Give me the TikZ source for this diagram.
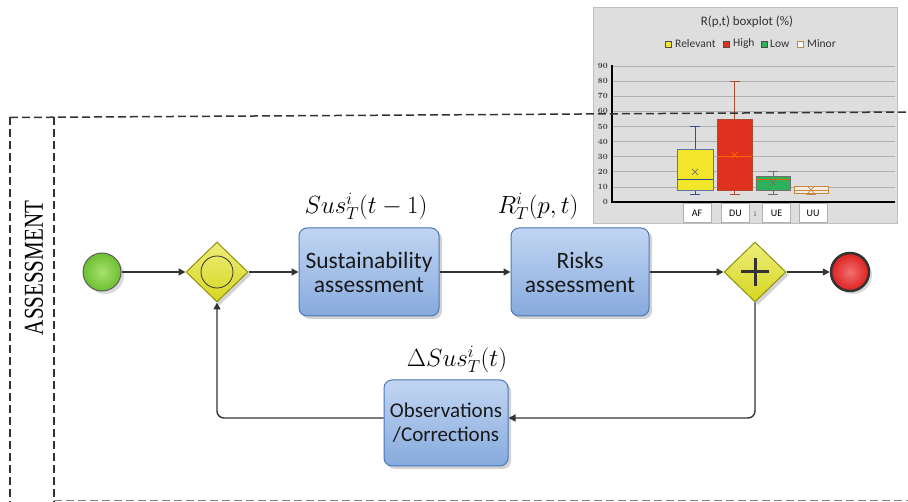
\documentclass[tikz,border=0pt]{standalone}
\usepackage{fontspec}
\setsansfont{Carlito}
\newfontfamily\lbserif{Liberation Serif}
\usetikzlibrary{shapes.geometric,shadows,arrows.meta}
\definecolor{lineC}{HTML}{333333}
\definecolor{boxB}{HTML}{4A78BA}
\definecolor{boxT}{HTML}{C2D6F2}
\definecolor{boxM}{HTML}{86AADD}
\definecolor{gwB}{HTML}{8F8F10}
\definecolor{gwT}{HTML}{EDED7A}
\definecolor{gwM}{HTML}{D6D620}
\definecolor{stT}{HTML}{A8E070}
\definecolor{stM}{HTML}{6CC030}
\definecolor{enT}{HTML}{F07070}
\definecolor{enM}{HTML}{DD2020}
\definecolor{chBg}{HTML}{DEDEDE}
\definecolor{grid}{HTML}{B0B0B0}
\definecolor{afY}{HTML}{F2E52A}
\definecolor{duR}{HTML}{E0301E}
\definecolor{ueG}{HTML}{2DB25C}
\definecolor{uuB}{HTML}{C08840}
\definecolor{wBlue}{HTML}{34508A}
\definecolor{wRed}{HTML}{B04A30}
\definecolor{wGrey}{HTML}{707070}
\newcommand\cy[1]{202-#1*1.51}
\begin{document}
\begin{tikzpicture}[x=1pt,y=-1pt,
  conn/.style={draw=lineC,line width=1.4pt},
  arr/.style={conn,-{Triangle[length=7pt,width=7pt]}},
  task/.style={draw=boxB,line width=1pt,rounded corners=8pt,top color=boxT,bottom color=boxM,
    drop shadow={opacity=0.35,shadow xshift=3pt,shadow yshift=-3pt},
    font=\sffamily\fontsize{23.5}{24}\selectfont,align=center,text=black!90,inner sep=2pt},
  gate/.style={diamond,draw=gwB,line width=1pt,top color=gwT,bottom color=gwM,
    minimum width=62pt,minimum height=60pt,inner sep=0pt,
    drop shadow={opacity=0.35,shadow xshift=3pt,shadow yshift=-3pt}},
  lbl/.style={font=\fontsize{24.5}{28}\selectfont},
  cont/.style={draw=lineC,line width=1.5pt,dash pattern=on 8pt off 4pt},
  chtext/.style={font=\sffamily\fontsize{13}{14}\selectfont,text=black!80},
  lgt/.style={anchor=west,inner sep=0pt,text=black!80},
  ax/.style={font=\fontsize{8}{8}\selectfont\bfseries,text=black!75},
  cat/.style={draw=grid,fill=white,font=\sffamily\fontsize{10}{10}\selectfont,minimum width=28pt,minimum height=19pt,inner sep=0pt}
]
\useasboundingbox (0,0) rectangle (908,502);

% container
\draw[cont] (10,117.5) -- (10,502);
\draw[cont] (54,117.5) -- (54,502);
\draw[cont,draw=gray,line width=1pt] (54,500) -- (908,500);
\node[rotate=90,font=\lbserif\fontsize{21}{22}\selectfont] (lane) at (34,268) {\scalebox{1}[1.3]{ASSESSMENT}};

% chart
\fill[chBg,draw=black!25] (593,7) rectangle (897,223);
\node[chtext] (ctitle) at (747,22) {R(p,t) boxplot (\%)};
\begin{scope}[font=\sffamily\fontsize{11.5}{12}\selectfont]
\draw[fill=afY,draw=black!70] (665,41) rectangle (671,47);
\node[lgt] (lg1) at (675,44) {Relevant};
\draw[fill=duR,draw=black!70] (723,41) rectangle (729,47);
\node[lgt] (lg2) at (733,44) {High};
\draw[fill=ueG,draw=black!70] (761,41) rectangle (767,47);
\node[lgt] (lg3) at (770,44) {Low};
\draw[fill=white,draw=uuB] (797,41) rectangle (803,47);
\node[lgt] (lg4) at (807,44) {Minor};
\end{scope}
\foreach \v in {10,20,...,90}{
  \draw[grid,line width=0.6pt] (612,{\cy{\v}}) -- (895,{\cy{\v}});
  \node[ax,anchor=east,inner sep=0pt] at (608,{\cy{\v}}) {\v};
}
\node[ax,anchor=east,inner sep=0pt] (ax0) at (608,202) {0};
\draw[black,line width=1.1pt] (612,65) -- (612,202) -- (895,202);
% AF
\draw[wBlue,line width=0.9pt] (695,{\cy{35}}) -- (695,{\cy{50}}) (690,{\cy{50}}) -- (700,{\cy{50}});
\draw[wBlue,line width=0.9pt] (695,{\cy{8}}) -- (695,{\cy{5}}) (690,{\cy{5}}) -- (700,{\cy{5}});
\draw[fill=afY,draw=wBlue!80,line width=0.8pt] (677,{\cy{8}}) rectangle (713,{\cy{35}});
\draw[wBlue,line width=1pt] (677,{\cy{15}}) -- (713,{\cy{15}});
\draw[wGrey,line width=0.7pt] (692,{\cy{20}-3}) -- (698,{\cy{20}+3}) (692,{\cy{20}+3}) -- (698,{\cy{20}-3});
% DU
\draw[wRed,line width=0.9pt] (734.5,{\cy{55}}) -- (734.5,{\cy{80}}) (729.5,{\cy{80}}) -- (739.5,{\cy{80}});
\draw[wRed,line width=0.9pt] (734.5,{\cy{8}}) -- (734.5,{\cy{5}}) (729.5,{\cy{5}}) -- (739.5,{\cy{5}});
\draw[fill=duR,draw=wRed,line width=0.8pt] (717,{\cy{8}}) rectangle (752,{\cy{55}});
\draw[orange!80!red,line width=0.6pt] (717,{\cy{30}}) -- (752,{\cy{30}});
\draw[orange!80!red,line width=0.7pt] (731.5,{\cy{31}-3}) -- (737.5,{\cy{31}+3}) (731.5,{\cy{31}+3}) -- (737.5,{\cy{31}-3});
% UE
\draw[wGrey,line width=0.9pt] (773,{\cy{17}}) -- (773,{\cy{20}}) (768,{\cy{20}}) -- (778,{\cy{20}});
\draw[wGrey,line width=0.9pt] (773,{\cy{8}}) -- (773,{\cy{5}}) (768,{\cy{5}}) -- (778,{\cy{5}});
\draw[fill=ueG,draw=wGrey,line width=0.8pt] (756,{\cy{8}}) rectangle (790,{\cy{17}});
\draw[orange!70!red,line width=0.6pt] (756,{\cy{15}}) -- (790,{\cy{15}});
\draw[wGrey,line width=0.7pt] (770,{\cy{13}-3}) -- (776,{\cy{13}+3}) (770,{\cy{13}+3}) -- (776,{\cy{13}-3});
% UU
\draw[uuB,line width=0.9pt] (811,{\cy{6}}) -- (811,{\cy{5}}) (806,{\cy{5}}) -- (816,{\cy{5}});
\draw[fill=white!85!uuB,draw=uuB,line width=0.8pt] (794,{\cy{6}}) rectangle (828,{\cy{10}});
\draw[uuB,line width=0.6pt] (794,{\cy{8}}) -- (828,{\cy{8}});
\draw[uuB,line width=0.7pt] (808,{\cy{8}-3}) -- (814,{\cy{8}+3}) (808,{\cy{8}+3}) -- (814,{\cy{8}-3});
% categories
\node[cat] (cAF) at (697,213) {AF};
\node[cat] (cDU) at (735.5,213) {DU};
\node[font=\fontsize{7}{7}\selectfont,text=black!70] (c1) at (755,214) {1};
\node[cat] (cUE) at (776.5,213) {UE};
\node[cat] (cUU) at (813,213) {UU};

% container top line (over chart)
\draw[cont] (10,117.5) -- (908,112);

% flow nodes
\node[circle,draw=lineC!80,line width=1pt,inner color=stT,outer color=stM,minimum size=38pt,inner sep=0pt,
  drop shadow={opacity=0.3,shadow xshift=3pt,shadow yshift=-3pt}] (start) at (102,272) {};
\node[gate] (gw1) at (217,272) {};
\draw[lineC,line width=0.8pt] (gw1.center) circle (16pt);
\node[task,minimum width=140pt,minimum height=88pt] (sus) at (369,272) {Sustainability\\assessment};
\node[task,minimum width=138pt,minimum height=88pt] (risk) at (580,272) {Risks\\assessment};
\node[gate] (gw2) at (755,272) {};
\draw[lineC,line width=3pt] ([xshift=-14pt]gw2.center) -- ([xshift=14pt]gw2.center)
  ([yshift=-14pt]gw2.center) -- ([yshift=14pt]gw2.center);
\node[circle,draw=lineC,line width=2.5pt,inner color=enT,outer color=enM,minimum size=38pt,inner sep=0pt,
  drop shadow={opacity=0.3,shadow xshift=3pt,shadow yshift=-3pt}] (end) at (850,272) {};
\node[task,minimum width=124pt,minimum height=86pt,font=\sffamily\fontsize{21}{24}\selectfont] (obs) at (446,423) {Observations\\/Corrections};

\node[lbl] (lsus) at (366,206) {$Sus^{i}_{T}(t-1)$};
\node[lbl] (lrisk) at (538,206) {$R^{i}_{T}(p,t)$};
\node[lbl] (lobs) at (457,359) {$\Delta Sus^{i}_{T}(t)$};

% connectors
\draw[arr] (start) -- (gw1);
\draw[arr] (gw1) -- (sus);
\draw[arr] (sus) -- (risk);
\draw[arr] (risk) -- (gw2);
\draw[arr] (gw2) -- (end);
\draw[arr,rounded corners=7pt] (gw2.south) |- ([yshift=5pt]obs.east);
\draw[arr,rounded corners=7pt] ([yshift=5pt]obs.west) -| (gw1.south);
\end{tikzpicture}
\end{document}
